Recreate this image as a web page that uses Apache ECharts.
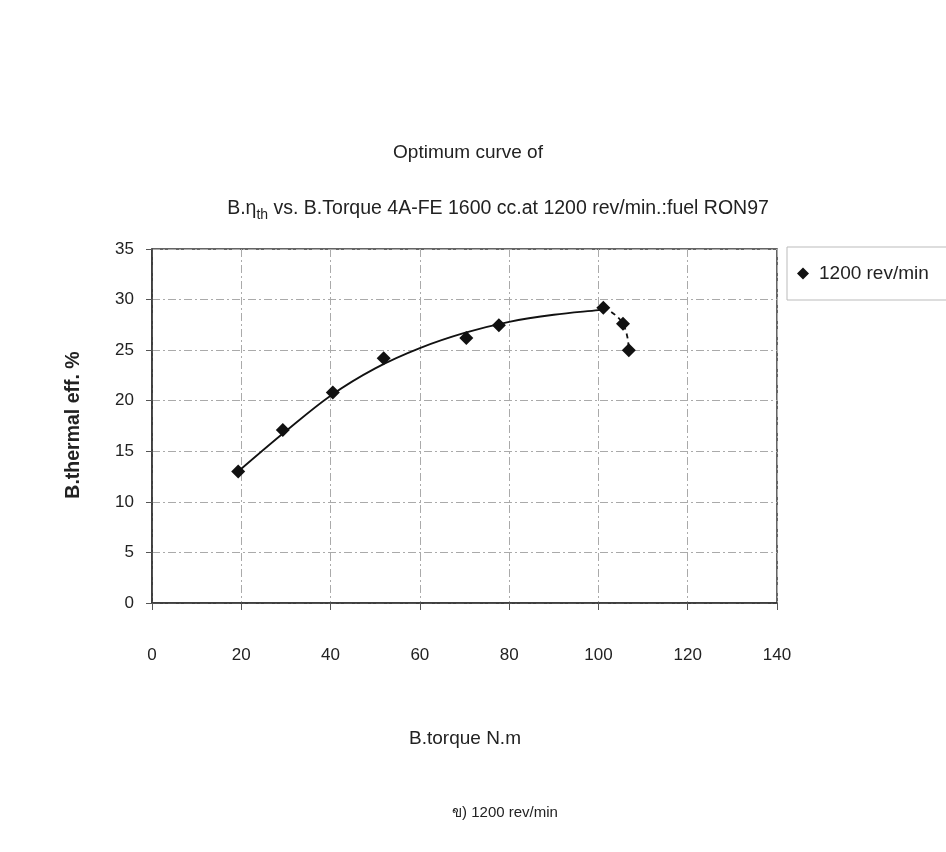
<!DOCTYPE html>
<html>
<head>
<meta charset="utf-8">
<script src="https://cdn.jsdelivr.net/npm/echarts@6/dist/echarts.min.js"></script>
<style>html,body{margin:0;padding:0;background:#fff;}#c{width:946px;height:852px;}</style>
</head>
<body>
<div id="c"></div>
<script>
// Measured points (B.torque N.m, B.thermal eff. %)
var torque = [19.3, 29.3, 40.5, 51.9, 70.4, 77.7, 101.1, 105.5, 106.8];
var effic  = [13.0, 17.1, 20.8, 24.2, 26.2, 27.45, 29.2, 27.6, 25.0];
// Optimum curve (solid)
var curveX = [19.3, 30, 40, 50, 60, 70, 80, 90, 100, 101.1];
var curveY = [13.0, 17.0, 20.5, 23.2, 25.2, 26.7, 27.8, 28.5, 28.95, 29.0];
// Dashed tail
var tailX = [101.1, 105.5, 106.8];
var tailY = [29.2, 27.6, 25.0];
var xTicks = [0, 20, 40, 60, 80, 100, 120, 140];
var yTicks = [0, 5, 10, 15, 20, 25, 30, 35];

function zip(a, b) { return a.map(function (v, i) { return [v, b[i]]; }); }

var FONT = 'Liberation Sans, Arial, sans-serif';
var chart = echarts.init(document.getElementById('c'), null, {renderer: 'canvas'});
chart.setOption({
  backgroundColor: '#ffffff',
  animation: false,
  textStyle: {fontFamily: FONT, color: '#222'},
  grid: {left: 152, right: 169, top: 249, bottom: 249, show: true, borderColor: '#333', borderWidth: 1.5, backgroundColor: 'transparent'},
  xAxis: {
    type: 'value', min: xTicks[0], max: xTicks[xTicks.length - 1], interval: 20,
    axisLine: {show: true, lineStyle: {color: '#333', width: 1.5}},
    axisTick: {show: true, length: 7, lineStyle: {color: '#555'}},
    axisLabel: {margin: 44, fontSize: 17, color: '#222', fontFamily: FONT},
    splitLine: {show: true, lineStyle: {color: '#aaa', type: [8, 3, 2, 3], width: 1}}
  },
  yAxis: {
    type: 'value', min: yTicks[0], max: yTicks[yTicks.length - 1], interval: 5,
    axisLine: {show: true, lineStyle: {color: '#333', width: 1.5}},
    axisTick: {show: true, length: 6, lineStyle: {color: '#555'}},
    axisLabel: {margin: 18, fontSize: 17, color: '#222', fontFamily: FONT},
    splitLine: {show: true, lineStyle: {color: '#aaa', type: [8, 3, 2, 3], width: 1}}
  },
  legend: {
    show: true, left: 787, top: 247, orient: 'vertical',
    data: [{name: '1200 rev/min', icon: 'diamond'}],
    itemWidth: 12, itemHeight: 12, itemGap: 6,
    padding: [17, 40, 17, 10],
    borderColor: '#bbb', borderWidth: 1, backgroundColor: '#fff',
    textStyle: {fontSize: 19, color: '#222', fontFamily: FONT, padding: [0, 0, 0, 5]}
  },
  series: [
    {
      name: 'curve', type: 'line', data: zip(curveX, curveY), smooth: 0.35, symbol: 'none',
      lineStyle: {color: '#111', width: 1.8}, z: 2, silent: true
    },
    {
      name: 'tail', type: 'line', data: zip(tailX, tailY), smooth: true, symbol: 'none',
      lineStyle: {color: '#111', width: 1.8, type: [5, 4]}, z: 2, silent: true
    },
    {
      name: '1200 rev/min', type: 'scatter', data: zip(torque, effic),
      symbol: 'diamond', symbolSize: 14, itemStyle: {color: '#111', opacity: 1}, z: 3
    }
  ],
  graphic: [
    {type: 'text', x: 468, y: 153, style: {text: 'Optimum curve of', font: '19px ' + FONT, fill: '#222', align: 'center', verticalAlign: 'middle'}},
    {type: 'text', x: 498, y: 209, style: {
      text: 'B.η{s|th} vs. B.Torque 4A-FE 1600 cc.at 1200 rev/min.:fuel RON97',
      rich: {s: {fontSize: 14, padding: [12, 0, 0, 0], fontFamily: FONT, fill: '#222'}},
      font: '19.5px ' + FONT, fill: '#222', align: 'center', verticalAlign: 'middle'}},
    {type: 'text', x: 465, y: 739, style: {text: 'B.torque N.m', font: '19px ' + FONT, fill: '#222', align: 'center', verticalAlign: 'middle'}},
    {type: 'text', x: 74, y: 425, rotation: Math.PI / 2, style: {text: 'B.thermal eff. %', font: 'bold 19.5px ' + FONT, fill: '#222', align: 'center', verticalAlign: 'middle'}},
    {type: 'text', x: 505, y: 813, style: {text: 'ข) 1200 rev/min', font: '15px ' + FONT + ', Noto Sans', fill: '#222', align: 'center', verticalAlign: 'middle'}}
  ]
});
</script>
</body>
</html>
